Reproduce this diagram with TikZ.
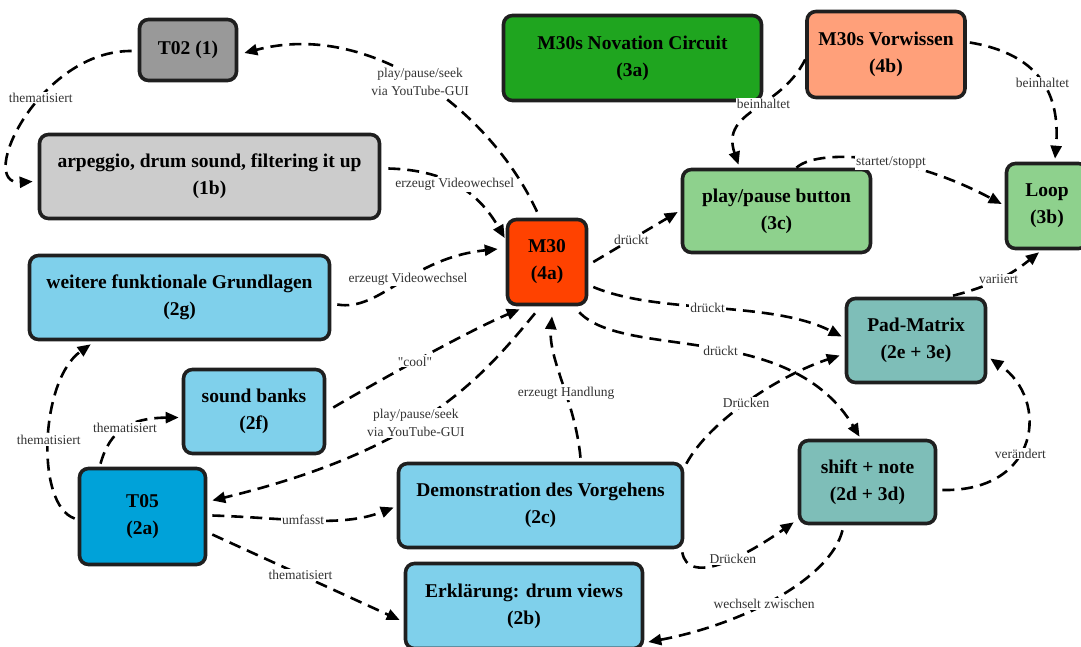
\documentclass[tikz,border=0pt]{standalone}
\usepackage{fontspec}
\setmainfont{Liberation Serif}
\newfontfamily\straightquotes{Liberation Serif}[Ligatures=TeXOff]
\usetikzlibrary{arrows.meta,calc}

\definecolor{cGrayDark}{HTML}{999999}
\definecolor{cGrayLight}{HTML}{CCCCCC}
\definecolor{cGreen}{HTML}{1FA51F}
\definecolor{cSalmon}{HTML}{FFA07A}
\definecolor{cLightGreen}{HTML}{8ED18D}
\definecolor{cRed}{HTML}{FF4200}
\definecolor{cSky}{HTML}{7FD0EB}
\definecolor{cDeepSky}{HTML}{00A2D9}
\definecolor{cTeal}{HTML}{7EBEB8}

\begin{document}
\begin{tikzpicture}[x=1pt,y=-1pt,
  box/.style={draw=black!88, line width=3.6pt, rounded corners=9pt, align=center,
    inner sep=0pt, font=\fontsize{19.5}{27}\selectfont\bfseries},
  link/.style={draw=black, line width=2.6pt, dash pattern=on 12pt off 7pt,
    -{Triangle[length=13pt,width=11pt]}},
  lbl/.style={fill=white, inner sep=1.2pt, text=black!80, align=center,
    font=\fontsize{13.5}{18}\selectfont}]
\useasboundingbox (0,0) rectangle (1081,646);

% nodes
\node[box, fill=cGrayDark, minimum width=97pt, minimum height=61pt] (t02) at (188,50) {T02 (1)};
\node[box, fill=cGreen, minimum width=258pt, minimum height=85pt] (n3a) at (632.5,58) {M30s Novation Circuit\\(3a)};
\node[box, fill=cSalmon, minimum width=158pt, minimum height=86pt] (n4b) at (886,54.5) {M30s Vorwissen\\(4b)};
\node[box, fill=cGrayLight, minimum width=340pt, minimum height=84pt] (n1b) at (209.5,176.5) {arpeggio, drum sound, filtering it up\\(1b)};
\node[box, fill=cLightGreen, minimum width=188pt, minimum height=83pt] (n3c) at (776.5,211) {play/pause button\\(3c)};
\node[box, fill=cLightGreen, minimum width=81pt, minimum height=85pt] (loop) at (1047,206) {Loop\\(3b)};
\node[box, fill=cRed, minimum width=79pt, minimum height=85pt] (m30) at (547,262) {M30\\(4a)};
\node[box, fill=cSky, minimum width=300pt, minimum height=84pt] (n2g) at (179.5,297.5) {weitere funktionale Grundlagen\\(2g)};
\node[box, fill=cTeal, minimum width=139pt, minimum height=84pt] (pad) at (916,340.5) {Pad-Matrix\\(2e + 3e)};
\node[box, fill=cSky, minimum width=141pt, minimum height=84pt] (n2f) at (254,411.5) {sound banks\\(2f)};
\node[box, fill=cTeal, minimum width=136pt, minimum height=83pt] (shift) at (867.5,482) {shift + note\\(2d + 3d)};
\node[box, fill=cDeepSky, minimum width=126pt, minimum height=96pt] (t05) at (142.5,516.5) {T05\\(2a)};
\node[box, fill=cSky, minimum width=284pt, minimum height=84pt] (n2c) at (540.5,505.5) {Demonstration des Vorgehens\\(2c)};
\node[box, fill=cSky, minimum width=237pt, minimum height=85pt] (n2b) at (524,606) {Erklärung: drum views\\(2b)};

% connectors
\draw[link] ($(m30.north)+(-10,-6)$) .. controls (490,110) and (370,20) .. ($(t02.east)+(6,3)$)
  node[lbl,pos=0.5] {play/pause/seek\\via YouTube-GUI};
\draw[link] ($(t02.west)+(-6,1)$) .. controls (40,50) and (-25,185) .. ($(n1b.west)+(-5,5)$)
  node[lbl,pos=0.4] {thematisiert};
\draw[link] ($(n1b.east)+(7,-8)$) .. controls (450,170) and (480,195) .. ($(m30.west)+(-1,-24)$)
  node[lbl,pos=0.45] {erzeugt Videowechsel};
\draw[link] ($(n2g.east)+(6,7)$) .. controls (380,312) and (410,258) .. ($(m30.west)+(-8,-13)$)
  node[lbl,pos=0.55] {erzeugt Videowechsel};
\draw[link] ($(n2f.east)+(7,-4)$) .. controls (380,380) and (470,330) .. ($(m30.south west)+(14,3)$)
  node[lbl,pos=0.45] {\straightquotes "cool"};
\draw[link] ($(m30.south)+(-12,7)$) .. controls (480,380) and (420,450) .. ($(t05.east)+(5,-16)$)
  node[lbl,pos=0.55] {play/pause/seek\\via YouTube-GUI};
\draw[link] ($(n2c.north)+(40,-4)$) .. controls (575,400) and (548,360) .. ($(m30.south)+(5,10)$)
  node[lbl,pos=0.42] {erzeugt Handlung};
\draw[link] ($(m30.east)+(5,0)$) -- ($(n3c.west)+(-3,1)$)
  node[lbl,pos=0.45] {drückt};
\draw[link] ($(m30.east)+(5,25)$) .. controls (660,315) and (770,300) .. ($(pad.west)+(-3,-4)$)
  node[lbl,pos=0.47] {drückt};
\draw[link] ($(m30.south east)+(-9,6)$) .. controls (625,360) and (790,320) .. ($(shift.north)+(-8,-2)$)
  node[lbl,pos=0.53] {drückt};
\draw[link] ($(n2c.north east)+(2,2)$) .. controls (710,420) and (780,375) .. ($(pad.west)+(-5,15)$)
  node[lbl,pos=0.48] {Drücken};
\draw[link] ($(pad.north)+(37,-1)$) to[bend right=12] node[lbl,pos=0.5] {variiert} ($(loop.south)+(-8,2)$);
\draw[link] ($(shift.east)+(5,8)$) .. controls (1040,492) and (1050,400) .. ($(pad.east)+(3,18)$)
  node[lbl,pos=0.42] {verändert};
\draw[link] ($(n2c.south east)+(-2,3)$) .. controls (688,585) and (740,560) .. ($(shift.south west)+(-4,-3)$)
  node[lbl,pos=0.6] {Drücken};
\draw[link] ($(shift.south)+(-25,5)$) .. controls (830,580) and (740,625) .. ($(n2b.east)+(4,36)$)
  node[lbl,pos=0.55] {wechselt zwischen};
\draw[link] ($(n4b.west)+(0,5)$) .. controls (780,110) and (720,110) .. ($(n3c.north)+(-38,-3)$)
  node[lbl,pos=0.42] {beinhaltet};
\draw[link] ($(n4b.east)+(3,-12)$) .. controls (1045,55) and (1060,100) .. ($(loop.north)+(8,-3)$)
  node[lbl,pos=0.5] {beinhaltet};
\draw[link] ($(n3c.north)+(20,0)$) .. controls (815,150) and (900,150) .. ($(loop.west)+(-3,-2)$)
  node[lbl,pos=0.6] {startet/stoppt};
\draw[link] ($(t05.west)+(-3,2)$) .. controls (35,505) and (40,380) .. ($(n2g.south west)+(63,3)$)
  node[lbl,pos=0.5] {thematisiert};
\draw[link] ($(t05.north)+(-42,-3)$) .. controls (110,430) and (130,418) .. ($(n2f.west)+(-3,6)$)
  node[lbl,pos=0.5] {thematisiert};
\draw[link] ($(t05.east)+(5,-1)$) .. controls (290,518) and (340,528) .. ($(n2c.west)+(-3,2)$)
  node[lbl,pos=0.45] {umfasst};
\draw[link] ($(t05.east)+(5,18)$) -- ($(n2b.west)+(-4,14)$)
  node[lbl,pos=0.47] {thematisiert};
\end{tikzpicture}
\end{document}
